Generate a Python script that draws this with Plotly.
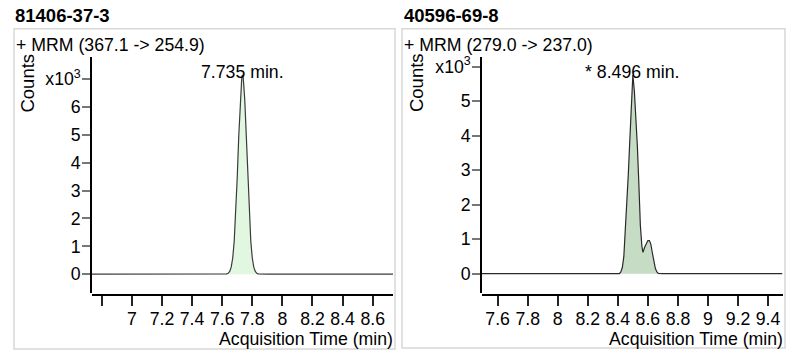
import plotly.graph_objects as go

W, H = 790, 358

# ---------------- data ----------------
left_title = "81406-37-3"
left_mrm = "+ MRM (367.1 -> 254.9)"
left_rt = 7.735
left_peak_label = "7.735 min."
left_time = [6.735, 7.0, 7.3, 7.6, 7.63, 7.64, 7.65, 7.66, 7.67, 7.68, 7.69, 7.70, 7.71, 7.72,
             7.73, 7.735, 7.74, 7.75, 7.76, 7.77, 7.78, 7.79, 7.80, 7.81, 7.82, 7.83, 7.84,
             7.9, 8.2, 8.5, 8.735]
left_counts = [0.0, 0.0, 0.0, 0.0, 0.01, 0.03, 0.10, 0.25, 0.58, 1.19, 2.15, 3.46, 4.94, 6.26,
               7.05, 7.16, 7.05, 6.26, 4.94, 3.46, 2.15, 1.19, 0.58, 0.25, 0.10, 0.03, 0.01,
               0.0, 0.0, 0.0, 0.0]
left_xticks = [6.8, 7.0, 7.2, 7.4, 7.6, 7.8, 8.0, 8.2, 8.4, 8.6]
left_xticktext = ["", "7", "7.2", "7.4", "7.6", "7.8", "8", "8.2", "8.4", "8.6"]
left_yticks = [0, 1, 2, 3, 4, 5, 6, 7]
left_yticktext = ["0", "1", "2", "3", "4", "5", "6", "x10<sup>3</sup>"]
left_xrange = [6.735, 8.735]
left_yrange = [-0.69, 7.81]

right_title = "40596-69-8"
right_mrm = "+ MRM (279.0 -> 237.0)"
right_rt = 8.496
right_peak_label = "* 8.496 min."
right_time = [7.496, 7.8, 8.05, 8.10, 8.15, 8.30, 8.33, 8.37, 8.41, 8.42, 8.43, 8.44, 8.45,
              8.46, 8.47, 8.48, 8.49, 8.50, 8.51, 8.52, 8.53, 8.54, 8.55, 8.56, 8.567, 8.58,
              8.59, 8.60, 8.61, 8.62, 8.63, 8.64, 8.65, 8.66, 8.67, 8.70, 9.0, 9.496]
right_counts = [0.0, 0.0, 0.0, 0.02, 0.0, 0.0, 0.02, 0.01, 0.0, 0.05, 0.18, 0.5, 1.2,
                2.0, 2.9, 3.9, 4.9, 5.76, 5.3, 4.6, 3.7, 2.6, 1.4, 0.8, 0.62, 0.78,
                0.9, 0.96, 0.96, 0.85, 0.6, 0.35, 0.15, 0.05, 0.01, 0.0, 0.0, 0.0]
right_xticks = [7.6, 7.8, 8.0, 8.2, 8.4, 8.6, 8.8, 9.0, 9.2, 9.4]
right_xticktext = ["7.6", "7.8", "8", "8.2", "8.4", "8.6", "8.8", "9", "9.2", "9.4"]
right_yticks = [0, 1, 2, 3, 4, 5, 6]
right_yticktext = ["0", "1", "2", "3", "4", "5", "x10<sup>3</sup>"]
right_xrange = [7.496, 9.496]
right_yrange = [-0.57, 6.29]

x_title = "Acquisition Time (min)"
y_title = "Counts"

# ---------------- helpers ----------------
FONT = "Liberation Sans, Arial, sans-serif"
FS = 17.7


def px(x):
    return x / W


def py(y):
    return 1 - y / H


fig = go.Figure()

fig.add_trace(go.Scatter(x=left_time, y=left_counts, mode="lines",
                         line=dict(color="#3a3a3a", width=1.2),
                         fill="tozeroy", fillcolor="#e2f7e0",
                         xaxis="x", yaxis="y", showlegend=False, hoverinfo="skip"))
fig.add_trace(go.Scatter(x=right_time, y=right_counts, mode="lines",
                         line=dict(color="#2a2a2a", width=1.2),
                         fill="tozeroy", fillcolor="#c6dcc4",
                         xaxis="x2", yaxis="y2", showlegend=False, hoverinfo="skip"))

xcommon = dict(showgrid=False, zeroline=False, showline=True, linecolor="#000000", linewidth=1.5,
               ticks="outside", ticklen=10, tickwidth=1.5, tickcolor="#222222",
               tickfont=dict(family=FONT, size=FS, color="#000000"), anchor="free",
               position=py(295), ticklabelstandoff=-2)
ycommon = dict(showgrid=False, zeroline=False, showline=True, linecolor="#000000", linewidth=1.5,
               ticks="outside", ticklen=8, tickwidth=1.5, tickcolor="#777777",
               tickfont=dict(family=FONT, size=FS, color="#000000"), ticklabelstandoff=-2)

fig.update_layout(
    width=W, height=H, margin=dict(l=0, r=0, t=0, b=0),
    paper_bgcolor="white", plot_bgcolor="white",
    xaxis=dict(xcommon, domain=[px(92), px(393)], range=left_xrange,
               tickmode="array", tickvals=left_xticks, ticktext=left_xticktext),
    yaxis=dict(ycommon, domain=[py(293), py(55)], range=left_yrange, anchor="x",
               tickmode="array", tickvals=left_yticks, ticktext=left_yticktext),
    xaxis2=dict(xcommon, domain=[px(482), px(782.5)], range=right_xrange,
                tickmode="array", tickvals=right_xticks, ticktext=right_xticktext),
    yaxis2=dict(ycommon, domain=[py(293), py(55)], range=right_yrange, anchor="x2",
                tickmode="array", tickvals=right_yticks, ticktext=right_yticktext),
)

shapes = []
for x0, x1, y0, y1 in [(14, 395, 27, 349), (402, 785, 27, 348)]:
    shapes.append(dict(type="rect", xref="paper", yref="paper",
                       x0=px(x0), x1=px(x1), y0=py(y1), y1=py(y0),
                       line=dict(color="#d8d8d8", width=1.5), fillcolor="rgba(0,0,0,0)",
                       layer="below"))
fig.update_layout(shapes=shapes)

ann = []
for x, title, mrm, xa_right in [(14, left_title, left_mrm, 393), (402.5, right_title, right_mrm, 782.5)]:
    ann.append(dict(text="<b>" + title + "</b>", xref="paper", yref="paper", x=px(x - 1), y=py(13.5),
                    xanchor="left", yanchor="middle", showarrow=False,
                    font=dict(family=FONT, size=18.5, color="#000000")))
    ann.append(dict(text=mrm, xref="paper", yref="paper", x=px(x - 0.5), y=py(43.5),
                    xanchor="left", yanchor="middle", showarrow=False,
                    font=dict(family=FONT, size=FS, color="#000000")))
    ann.append(dict(text=x_title, xref="paper", yref="paper", x=px(xa_right + 2), y=py(339),
                    xanchor="right", yanchor="middle", showarrow=False,
                    font=dict(family=FONT, size=FS, color="#000000")))

ann.append(dict(text=y_title, xref="paper", yref="paper", x=px(27.5), y=py(81.5),
                xanchor="center", yanchor="middle", textangle=-90, showarrow=False,
                font=dict(family=FONT, size=18.5, color="#000000")))
ann.append(dict(text=y_title, xref="paper", yref="paper", x=px(416), y=py(81.5),
                xanchor="center", yanchor="middle", textangle=-90, showarrow=False,
                font=dict(family=FONT, size=18.5, color="#000000")))

ann.append(dict(text=left_peak_label, xref="x", yref="y", x=left_rt, y=max(left_counts),
                xanchor="center", yanchor="middle", yshift=3, showarrow=False,
                font=dict(family=FONT, size=FS, color="#000000")))
ann.append(dict(text=right_peak_label, xref="x2", yref="y2", x=right_rt, y=max(right_counts),
                xanchor="center", yanchor="middle", yshift=3, showarrow=False,
                font=dict(family=FONT, size=FS, color="#000000")))
fig.update_layout(annotations=ann)

fig.write_html("out.html", config={"displayModeBar": False},
               post_script="document.body.style.margin='0';document.body.style.padding='0';")
